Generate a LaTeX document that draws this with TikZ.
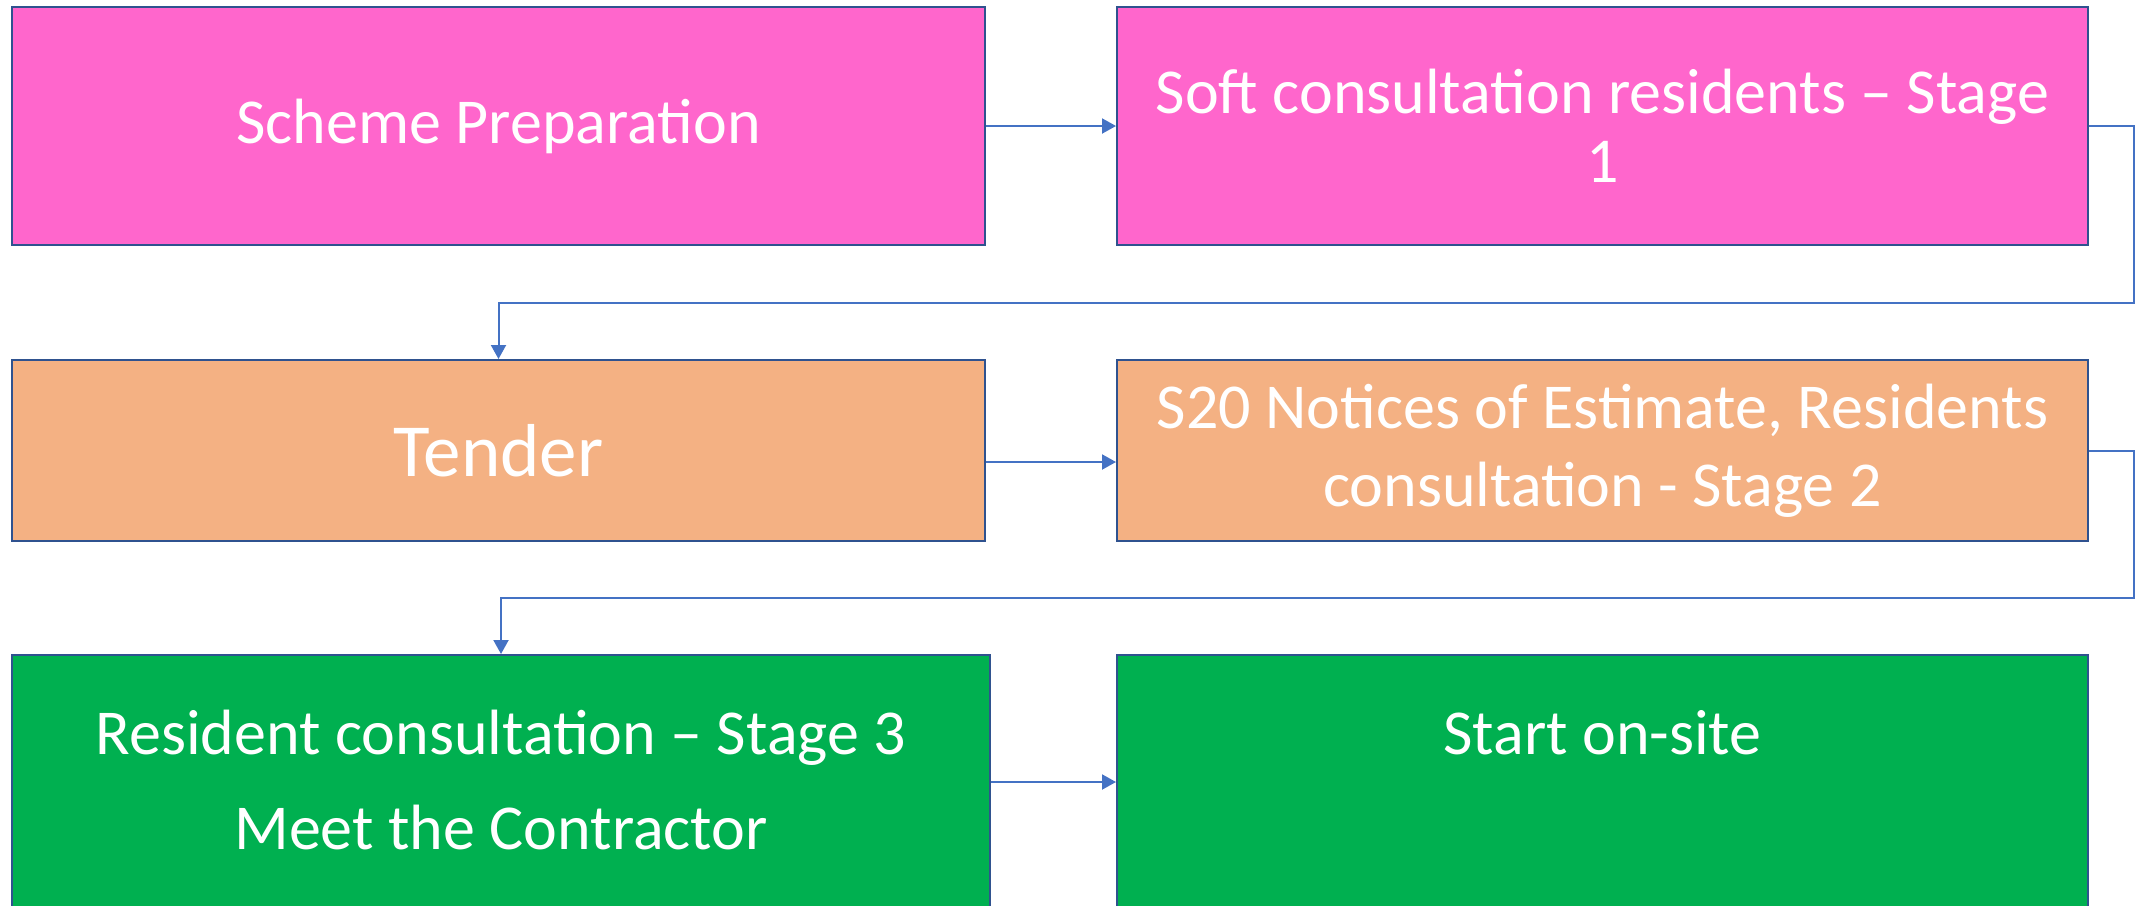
\documentclass[tikz,border=0pt]{standalone}
\usepackage{fontspec}
\setmainfont{Carlito}
\usetikzlibrary{arrows.meta}
\definecolor{pinkbox}{HTML}{FF66CC}
\definecolor{orangebox}{HTML}{F4B183}
\definecolor{greenbox}{HTML}{00B050}
\definecolor{edgeblue}{HTML}{2F528F}
\definecolor{linkblue}{HTML}{4472C4}
\begin{document}
\begin{tikzpicture}[x=0.5pt,y=-0.5pt,
  box/.style={draw=edgeblue, line width=1pt, text=white, align=center, inner sep=0pt},
  link/.style={draw=linkblue, line width=1pt, -{Triangle[length=7pt,width=7.5pt]}}]
\useasboundingbox (0,0) rectangle (2136,905);
\clip (0,0) rectangle (2136,905);
\node[box, fill=pinkbox, minimum width=486.5pt, minimum height=119pt,
  font=\fontsize{32pt}{36pt}\selectfont] (b1) at (498.5,126) {Scheme Preparation};
\node[box, fill=pinkbox, minimum width=485.5pt, minimum height=119pt,
  font=\fontsize{32pt}{34.5pt}\selectfont] (b2) at (1602.5,126) {Soft consultation residents – Stage\\1};
\node[box, fill=orangebox, minimum width=486.5pt, minimum height=90.5pt,
  font=\fontsize{37.5pt}{40pt}\selectfont] (b3) at (498.5,450.5) {Tender};
\node[box, fill=orangebox, minimum width=485.5pt, minimum height=90.5pt,
  font=\fontsize{32pt}{39pt}\selectfont] (b4) at (1602.5,450.5) {S20 Notices of Estimate, Residents\\consultation - Stage 2};
\node[box, fill=greenbox, minimum width=489pt, minimum height=135pt,
  font=\fontsize{32pt}{47.5pt}\selectfont] (b5) at (501,790) {Resident consultation – Stage 3\\Meet the Contractor\rule[-10pt]{0pt}{0pt}};
\node[box, fill=greenbox, minimum width=485.5pt, minimum height=135pt,
  font=\fontsize{32pt}{47.5pt}\selectfont] (b6) at (1602.5,790) {Start on-site\\\mbox{}\rule[-10pt]{0pt}{0pt}};
\coordinate (r1) at (2134,303);
\coordinate (r2) at (2134,598);
\draw[link] (b1.east) -- (b2.west);
\draw[link] (b2.east) -| (r1) -| (b3.north);
\draw[link] ([yshift=-5.75pt]b3.east) -- ([yshift=-5.75pt]b4.west);
\draw[link] (b4.east) -| (r2) -| (b5.north);
\draw[link] ([yshift=4pt]b5.east) -- ([yshift=4pt]b6.west);
\end{tikzpicture}
\end{document}
